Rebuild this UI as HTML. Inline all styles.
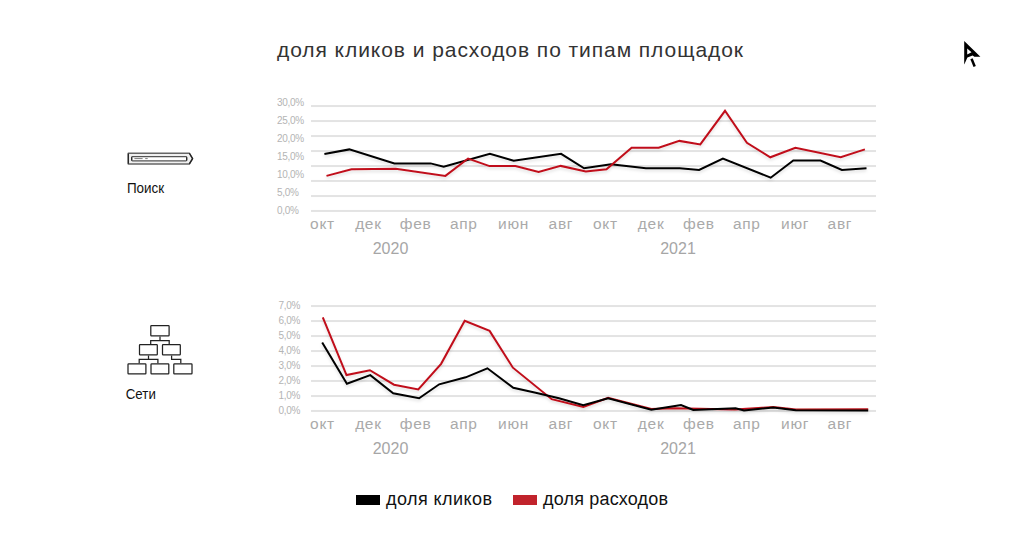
<!DOCTYPE html>
<html><head><meta charset="utf-8"><style>
html,body{margin:0;padding:0;background:#fff;}
body{width:1024px;height:548px;overflow:hidden;position:relative;font-family:"Liberation Sans",sans-serif;}
svg{position:absolute;left:0;top:0;}
text{font-family:"Liberation Sans",sans-serif;}
.yl{font-size:10px;fill:#b4b4b4;letter-spacing:-0.3px;}
.xl{font-size:15.5px;fill:#aaaaaa;text-anchor:middle;letter-spacing:0.7px;}
.yr{font-size:16px;fill:#a6a6a6;text-anchor:middle;}
.ln{fill:none;stroke-width:2;stroke-linejoin:miter;stroke-linecap:butt;}
.t{font-size:21px;fill:#333;}
.lg{font-size:18px;fill:#111;}
.il{font-size:14px;fill:#111;}
</style></head><body>
<svg width="1024" height="548" viewBox="0 0 1024 548">
<defs><filter id="sh" x="-5%" y="-20%" width="110%" height="140%"><feDropShadow dx="0" dy="2" stdDeviation="1.5" flood-color="#000" flood-opacity="0.13"/></filter></defs>
<text x="277" y="57" class="t" textLength="466" lengthAdjust="spacing">доля кликов и расходов по типам площадок</text>
<rect x="311" y="105.05" width="565" height="2" fill="#e3e3e3"/>
<rect x="311" y="120.05" width="565" height="2" fill="#e3e3e3"/>
<rect x="311" y="135.05" width="565" height="2" fill="#e3e3e3"/>
<rect x="311" y="150.05" width="565" height="2" fill="#e3e3e3"/>
<rect x="311" y="165.05" width="565" height="2" fill="#e3e3e3"/>
<rect x="311" y="179.95" width="565" height="2" fill="#e3e3e3"/>
<rect x="311" y="195.05" width="565" height="2" fill="#e3e3e3"/>
<rect x="311" y="209.95" width="565" height="2" fill="#e3e3e3"/>
<rect x="311" y="305.05" width="565" height="2" fill="#e3e3e3"/>
<rect x="311" y="320.05" width="565" height="2" fill="#e3e3e3"/>
<rect x="311" y="335.05" width="565" height="2" fill="#e3e3e3"/>
<rect x="311" y="350.05" width="565" height="2" fill="#e3e3e3"/>
<rect x="311" y="365.05" width="565" height="2" fill="#e3e3e3"/>
<rect x="311" y="379.95" width="565" height="2" fill="#e3e3e3"/>
<rect x="311" y="395.05" width="565" height="2" fill="#e3e3e3"/>
<rect x="311" y="409.95" width="565" height="2" fill="#e3e3e3"/>
<text x="277" y="105.9" class="yl">30,0%</text>
<text x="277" y="123.9" class="yl">25,0%</text>
<text x="277" y="141.9" class="yl">20,0%</text>
<text x="277" y="159.8" class="yl">15,0%</text>
<text x="277" y="177.8" class="yl">10,0%</text>
<text x="277" y="195.8" class="yl">5,0%</text>
<text x="277" y="213.8" class="yl">0,0%</text>
<text x="278.6" y="308.7" class="yl">7,0%</text>
<text x="278.6" y="323.7" class="yl">6,0%</text>
<text x="278.6" y="338.7" class="yl">5,0%</text>
<text x="278.6" y="353.7" class="yl">4,0%</text>
<text x="278.6" y="368.7" class="yl">3,0%</text>
<text x="278.6" y="383.8" class="yl">2,0%</text>
<text x="278.6" y="398.8" class="yl">1,0%</text>
<text x="278.6" y="413.8" class="yl">0,0%</text>
<text x="322.5" y="229.1" class="xl">окт</text>
<text x="368.4" y="229.1" class="xl">дек</text>
<text x="415.6" y="229.1" class="xl">фев</text>
<text x="463.8" y="229.1" class="xl">апр</text>
<text x="513.6" y="229.1" class="xl">июн</text>
<text x="560.9" y="229.1" class="xl">авг</text>
<text x="605.4" y="229.1" class="xl">окт</text>
<text x="651.1" y="229.1" class="xl">дек</text>
<text x="698.8" y="229.1" class="xl">фев</text>
<text x="746.8" y="229.1" class="xl">апр</text>
<text x="795.1" y="229.1" class="xl">июг</text>
<text x="839.9" y="229.1" class="xl">авг</text>
<text x="390.5" y="254" class="yr">2020</text>
<text x="678" y="254" class="yr">2021</text>
<text x="322.5" y="429.1" class="xl">окт</text>
<text x="368.4" y="429.1" class="xl">дек</text>
<text x="415.6" y="429.1" class="xl">фев</text>
<text x="463.8" y="429.1" class="xl">апр</text>
<text x="513.6" y="429.1" class="xl">июн</text>
<text x="560.9" y="429.1" class="xl">авг</text>
<text x="605.4" y="429.1" class="xl">окт</text>
<text x="651.1" y="429.1" class="xl">дек</text>
<text x="698.8" y="429.1" class="xl">фев</text>
<text x="746.8" y="429.1" class="xl">апр</text>
<text x="795.1" y="429.1" class="xl">июг</text>
<text x="839.9" y="429.1" class="xl">авг</text>
<text x="390.5" y="454" class="yr">2020</text>
<text x="678" y="454" class="yr">2021</text>
<g filter="url(#sh)">
<polyline points="324.4,154.0 349.3,149.4 394.4,163.4 430.6,163.4 443.7,166.7 489.9,153.8 513.7,160.8 561.1,153.8 584.1,168.3 611.0,164.2 645.9,168.2 679.8,168.3 699.1,170.0 722.9,158.5 770.7,177.7 793.3,160.5 820.5,160.5 841.9,169.9 866.5,168.3" class="ln" stroke="#000"/>
<polyline points="326.5,175.9 351.5,169.3 395.7,168.7 445.4,175.9 468.1,158.5 489.5,166.1 515.4,166.1 538.6,171.9 560.7,165.9 585.8,171.6 606.5,169.3 631.6,147.7 658.7,147.7 679.4,140.9 700.3,144.4 725.0,110.8 746.9,142.8 770.3,157.3 795.4,147.7 840.7,157.3 864.9,149.4" class="ln" stroke="#c0101a"/>
<polyline points="322.8,317.4 346.5,375.1 369.9,370.2 394.0,384.7 418.3,389.5 441.1,363.8 464.7,320.7 489.6,330.9 512.9,367.7 551.7,399.2 583.3,407.0 608.1,397.7 651.3,408.9 675.0,408.3 735.0,409.5 773.2,407.1 795.8,409.5 868.2,409.2" class="ln" stroke="#c0101a"/>
<polyline points="322.2,342.4 346.9,383.7 370.3,375.1 393.2,393.3 419.1,398.3 439.2,384.3 465.7,377.3 487.4,368.3 513.3,387.7 535.7,392.8 559.0,398.3 583.3,405.3 608.1,398.2 651.3,409.7 675.0,406.1 681.0,405.1 693.3,410.0 735.6,408.3 744.0,410.4 773.2,407.5 795.8,410.2 868.2,410.4" class="ln" stroke="#000"/>
</g>
<rect x="356" y="495" width="24" height="10" fill="#000"/>
<text x="386" y="504.5" class="lg" textLength="106" lengthAdjust="spacing">доля кликов</text>
<rect x="513" y="495" width="24" height="10" fill="#c1232c"/>
<text x="543" y="504.5" class="lg" textLength="125" lengthAdjust="spacing">доля расходов</text>
<text x="126.9" y="192.8" class="il" textLength="37.3" lengthAdjust="spacingAndGlyphs">Поиск</text>
<text x="125.8" y="398.6" class="il" textLength="30" lengthAdjust="spacingAndGlyphs">Сети</text>
<!-- search icon -->
<path d="M128.3,153.2 H189.3 L192.6,158.6 L189.3,164 H128.3 Z" fill="#f0f0f0" stroke="#666" stroke-width="1.5" stroke-linejoin="round"/>
<path d="M128.3,153.4 V163.8 M189.4,153.3 L192.6,158.6 L189.4,163.9" fill="none" stroke="#222" stroke-width="1.2" stroke-linejoin="round"/>
<rect x="131.7" y="156.7" width="55" height="4.2" rx="0.8" fill="#fff" stroke="#555" stroke-width="1.2"/>
<path d="M131.7,157.2 V160.4 M186.7,157.2 V160.4" stroke="#222" stroke-width="1.1"/>
<rect x="134.4" y="158" width="8.2" height="1.1" fill="#888"/>
<rect x="145.2" y="158" width="2.5" height="1.1" fill="#888"/>
<!-- network icon -->
<g fill="none" stroke="#222" stroke-width="1.25">
<rect x="150.8" y="325.7" width="18.3" height="10.1" rx="0.6"/>
<rect x="139.5" y="344.7" width="17.8" height="10.1" rx="0.6"/>
<rect x="162.5" y="344.7" width="17.8" height="10.1" rx="0.6"/>
<rect x="128" y="363.9" width="17.9" height="9.9" rx="0.6"/>
<rect x="151" y="363.9" width="17.8" height="9.9" rx="0.6"/>
<rect x="173.8" y="363.9" width="18.2" height="9.9" rx="0.6"/>
<path d="M160,336.4 V340.6 M150.7,344.1 V340.6 H169.2 V344.1"/>
<path d="M148.5,355.4 V359.3 M139.2,363.3 V359.3 H157.9 V363.3"/>
<path d="M171.6,355.4 V359.3 H180.8 V363.3"/>
</g>
<!-- logo -->
<path fill-rule="evenodd" fill="#000" d="M964.2,41.1 L980.4,56.7 L974.4,56.7 L972.6,55.6 L967.4,57.4 L964.4,64.3 L964.2,64.3 Z M967.2,48.4 L971.5,52.2 L967.2,54.4 Z"/>
<path d="M971.5,58.7 L974.7,66.4" stroke="#000" stroke-width="2.5"/>
</svg>
</body></html>
